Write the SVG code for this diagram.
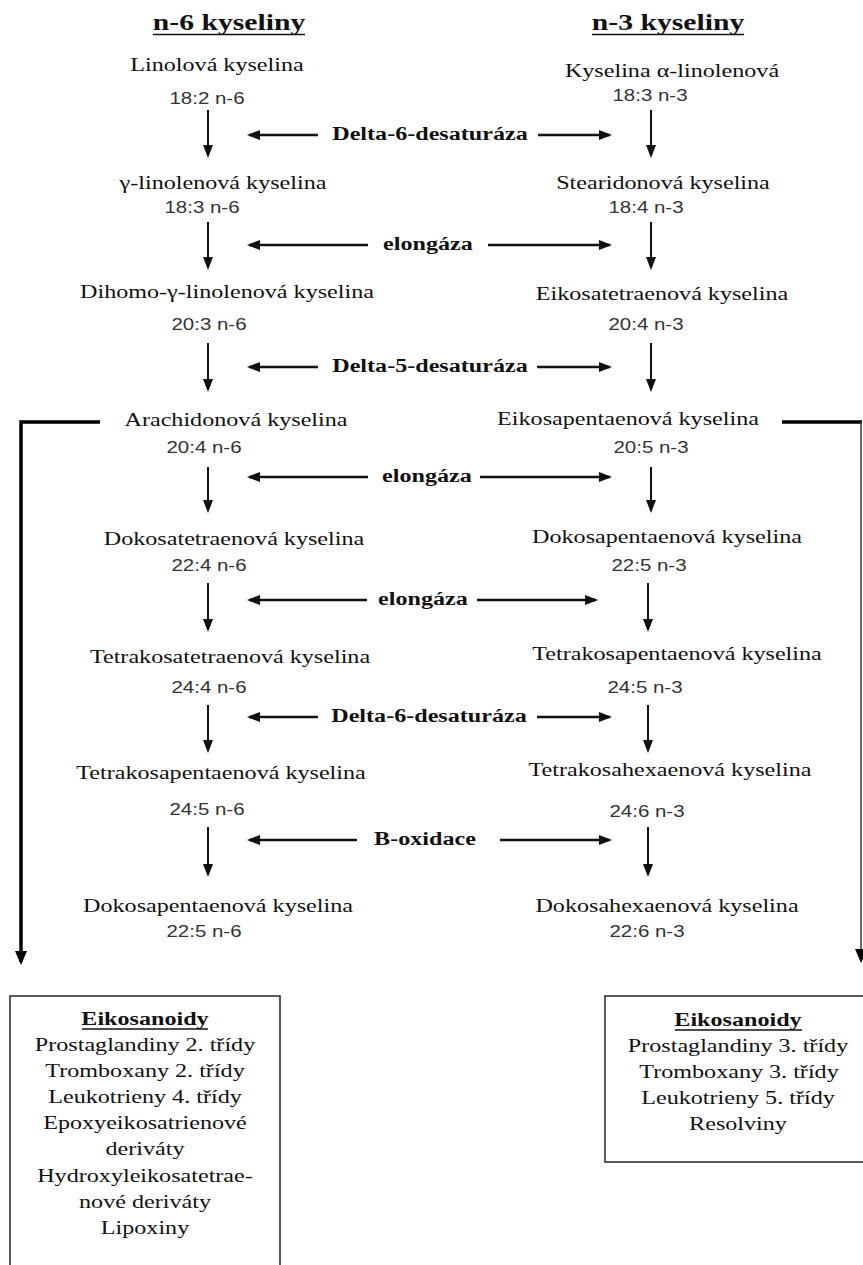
<svg xmlns="http://www.w3.org/2000/svg" width="863" height="1265" viewBox="0 0 863 1265">
<style>
.t{font-family:"Liberation Serif","Times New Roman",serif;font-size:19px;fill:#111;text-anchor:middle}
.n{font-family:"Liberation Sans",Arial,sans-serif;font-size:16px;fill:#333;text-anchor:middle}
.b{font-weight:bold}
.h{font-size:23px;font-weight:bold}
.ul{stroke:#111;stroke-width:1.5}
.va{stroke:#111;stroke-width:2;fill:none}
.ha{stroke:#111;stroke-width:2.6;fill:none}
.br{stroke:#000;stroke-width:3.5;fill:none}
.box{fill:#fff;stroke:#333;stroke-width:1.6}
</style>
<defs>
<marker id="ah" markerUnits="userSpaceOnUse" markerWidth="16" markerHeight="12" refX="11" refY="5" orient="auto" viewBox="0 0 16 12"><path d="M0,0 L13,5 L0,10 z" fill="#111"/></marker>
<marker id="ab" markerUnits="userSpaceOnUse" markerWidth="16" markerHeight="14" refX="11" refY="6" orient="auto" viewBox="0 0 16 14"><path d="M0,0 L14,6 L0,12 z" fill="#000"/></marker>
</defs>
<rect width="863" height="1265" fill="#fff"/>

<g id="connectors">
  <line class="va" x1="208" y1="110" x2="208" y2="156" marker-end="url(#ah)"/>
  <line class="va" x1="208" y1="222" x2="208" y2="268" marker-end="url(#ah)"/>
  <line class="va" x1="208" y1="343" x2="208" y2="390" marker-end="url(#ah)"/>
  <line class="va" x1="208" y1="467" x2="208" y2="511" marker-end="url(#ah)"/>
  <line class="va" x1="208" y1="583" x2="208" y2="630" marker-end="url(#ah)"/>
  <line class="va" x1="208" y1="705" x2="208" y2="751" marker-end="url(#ah)"/>
  <line class="va" x1="208" y1="827" x2="208" y2="875" marker-end="url(#ah)"/>
  <line class="va" x1="651" y1="110" x2="651" y2="156" marker-end="url(#ah)"/>
  <line class="va" x1="651" y1="222" x2="651" y2="268" marker-end="url(#ah)"/>
  <line class="va" x1="651" y1="343" x2="651" y2="390" marker-end="url(#ah)"/>
  <line class="va" x1="651" y1="467" x2="651" y2="511" marker-end="url(#ah)"/>
  <line class="va" x1="648" y1="583" x2="648" y2="630" marker-end="url(#ah)"/>
  <line class="va" x1="648" y1="705" x2="648" y2="751" marker-end="url(#ah)"/>
  <line class="va" x1="648" y1="827" x2="648" y2="875" marker-end="url(#ah)"/>
  <line class="ha" x1="318" y1="135" x2="249" y2="135" marker-end="url(#ah)"/>
  <line class="ha" x1="538" y1="135" x2="610" y2="135" marker-end="url(#ah)"/>
  <line class="ha" x1="368" y1="245" x2="249" y2="245" marker-end="url(#ah)"/>
  <line class="ha" x1="488" y1="245" x2="610" y2="245" marker-end="url(#ah)"/>
  <line class="ha" x1="318" y1="367" x2="249" y2="367" marker-end="url(#ah)"/>
  <line class="ha" x1="537" y1="367" x2="610" y2="367" marker-end="url(#ah)"/>
  <line class="ha" x1="368" y1="477" x2="249" y2="477" marker-end="url(#ah)"/>
  <line class="ha" x1="480" y1="477" x2="610" y2="477" marker-end="url(#ah)"/>
  <line class="ha" x1="367" y1="600" x2="249" y2="600" marker-end="url(#ah)"/>
  <line class="ha" x1="477" y1="600" x2="596" y2="600" marker-end="url(#ah)"/>
  <line class="ha" x1="318" y1="717" x2="249" y2="717" marker-end="url(#ah)"/>
  <line class="ha" x1="537" y1="717" x2="610" y2="717" marker-end="url(#ah)"/>
  <line class="ha" x1="357" y1="840" x2="249" y2="840" marker-end="url(#ah)"/>
  <line class="ha" x1="500" y1="840" x2="610" y2="840" marker-end="url(#ah)"/>
  <path class="br" d="M100,422 H21 V962" marker-end="url(#ab)"/>
  <path class="br" d="M782,422 H862"/>
  <path d="M861,422 V960" stroke="#444" stroke-width="1.6" fill="none" marker-end="url(#ab)"/>
</g>

<g id="title-n6">
  <text class="t h" transform="translate(229,30) scale(1.29,1)">n-6 kyseliny</text>
  <line class="ul" x1="153" y1="34.5" x2="305" y2="34.5"/>
</g>
<g id="title-n3">
  <text class="t h" transform="translate(668,30) scale(1.29,1)">n-3 kyseliny</text>
  <line class="ul" x1="592" y1="34.5" x2="744" y2="34.5"/>
</g>

<g id="n6-1"><text class="t" transform="translate(217,71) scale(1.27,1)">Linolová kyselina</text><text class="n" transform="translate(207,104) scale(1.28,1)">18:2 n-6</text></g>
<g id="n6-2"><text class="t" transform="translate(223,189) scale(1.27,1)">γ-linolenová kyselina</text><text class="n" transform="translate(202,213) scale(1.28,1)">18:3 n-6</text></g>
<g id="n6-3"><text class="t" transform="translate(227,298) scale(1.27,1)">Dihomo-γ-linolenová kyselina</text><text class="n" transform="translate(209,330) scale(1.28,1)">20:3 n-6</text></g>
<g id="n6-4"><text class="t" transform="translate(236,426) scale(1.27,1)">Arachidonová kyselina</text><text class="n" transform="translate(204,453) scale(1.28,1)">20:4 n-6</text></g>
<g id="n6-5"><text class="t" transform="translate(234,545) scale(1.27,1)">Dokosatetraenová kyselina</text><text class="n" transform="translate(209,571) scale(1.28,1)">22:4 n-6</text></g>
<g id="n6-6"><text class="t" transform="translate(230,663) scale(1.27,1)">Tetrakosatetraenová kyselina</text><text class="n" transform="translate(209,693) scale(1.28,1)">24:4 n-6</text></g>
<g id="n6-7"><text class="t" transform="translate(221,779) scale(1.27,1)">Tetrakosapentaenová kyselina</text><text class="n" transform="translate(207,815) scale(1.28,1)">24:5 n-6</text></g>
<g id="n6-8"><text class="t" transform="translate(218,912) scale(1.27,1)">Dokosapentaenová kyselina</text><text class="n" transform="translate(204,937) scale(1.28,1)">22:5 n-6</text></g>

<g id="n3-1"><text class="t" transform="translate(672,77) scale(1.27,1)">Kyselina α-linolenová</text><text class="n" transform="translate(650,101) scale(1.28,1)">18:3 n-3</text></g>
<g id="n3-2"><text class="t" transform="translate(663,189) scale(1.27,1)">Stearidonová kyselina</text><text class="n" transform="translate(646,213) scale(1.28,1)">18:4 n-3</text></g>
<g id="n3-3"><text class="t" transform="translate(662,300) scale(1.27,1)">Eikosatetraenová kyselina</text><text class="n" transform="translate(646,330) scale(1.28,1)">20:4 n-3</text></g>
<g id="n3-4"><text class="t" transform="translate(628,425) scale(1.27,1)">Eikosapentaenová kyselina</text><text class="n" transform="translate(651,453) scale(1.28,1)">20:5 n-3</text></g>
<g id="n3-5"><text class="t" transform="translate(667,543) scale(1.27,1)">Dokosapentaenová kyselina</text><text class="n" transform="translate(649,571) scale(1.28,1)">22:5 n-3</text></g>
<g id="n3-6"><text class="t" transform="translate(677,660) scale(1.27,1)">Tetrakosapentaenová kyselina</text><text class="n" transform="translate(645,693) scale(1.28,1)">24:5 n-3</text></g>
<g id="n3-7"><text class="t" transform="translate(670,776) scale(1.27,1)">Tetrakosahexaenová kyselina</text><text class="n" transform="translate(647,817) scale(1.28,1)">24:6 n-3</text></g>
<g id="n3-8"><text class="t" transform="translate(667,912) scale(1.27,1)">Dokosahexaenová kyselina</text><text class="n" transform="translate(647,937) scale(1.28,1)">22:6 n-3</text></g>

<g id="enzymes">
  <text class="t b" transform="translate(430,140) scale(1.27,1)">Delta-6-desaturáza</text>
  <text class="t b" transform="translate(428,250) scale(1.27,1)">elongáza</text>
  <text class="t b" transform="translate(430,372) scale(1.27,1)">Delta-5-desaturáza</text>
  <text class="t b" transform="translate(427,482) scale(1.27,1)">elongáza</text>
  <text class="t b" transform="translate(423,605) scale(1.27,1)">elongáza</text>
  <text class="t b" transform="translate(429,722) scale(1.27,1)">Delta-6-desaturáza</text>
  <text class="t b" transform="translate(425,845) scale(1.27,1)">B-oxidace</text>
</g>

<g id="eiko-n6">
  <rect class="box" x="10" y="996" width="270" height="290"/>
  <text class="t b" transform="translate(145,1025) scale(1.27,1)">Eikosanoidy</text>
  <line class="ul" x1="82" y1="1029" x2="208" y2="1029"/>
  <text class="t" transform="translate(145,1051) scale(1.27,1)">Prostaglandiny 2. třídy</text>
  <text class="t" transform="translate(145,1077) scale(1.27,1)">Tromboxany 2. třídy</text>
  <text class="t" transform="translate(145,1103) scale(1.27,1)">Leukotrieny 4. třídy</text>
  <text class="t" transform="translate(145,1129) scale(1.27,1)">Epoxyeikosatrienové</text>
  <text class="t" transform="translate(145,1155) scale(1.27,1)">deriváty</text>
  <text class="t" transform="translate(145,1182) scale(1.27,1)">Hydroxyleikosatetrae-</text>
  <text class="t" transform="translate(145,1208) scale(1.27,1)">nové deriváty</text>
  <text class="t" transform="translate(145,1234) scale(1.27,1)">Lipoxiny</text>
</g>

<g id="eiko-n3">
  <rect class="box" x="605" y="996" width="280" height="166"/>
  <text class="t b" transform="translate(738,1026) scale(1.27,1)">Eikosanoidy</text>
  <line class="ul" x1="675" y1="1030" x2="802" y2="1030"/>
  <text class="t" transform="translate(738,1052) scale(1.27,1)">Prostaglandiny 3. třídy</text>
  <text class="t" transform="translate(739,1078) scale(1.27,1)">Tromboxany 3. třídy</text>
  <text class="t" transform="translate(738,1104) scale(1.27,1)">Leukotrieny 5. třídy</text>
  <text class="t" transform="translate(738,1130) scale(1.27,1)">Resolviny</text>
</g>
</svg>
